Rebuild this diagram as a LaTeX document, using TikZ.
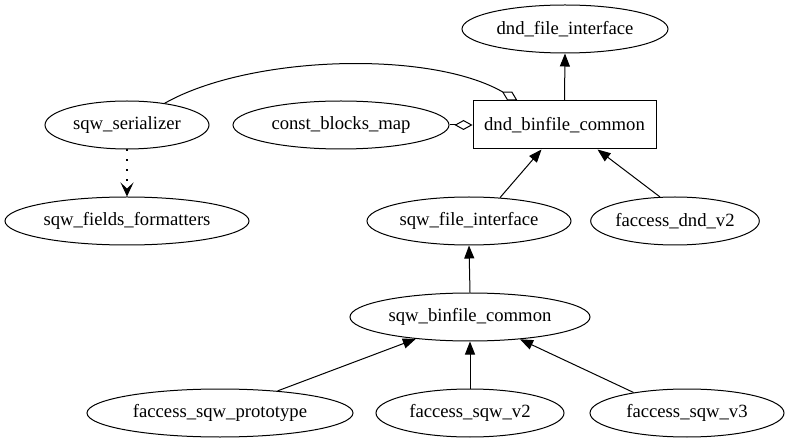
\documentclass[tikz,border=0pt]{standalone}
\usepackage{fontspec}
\setmainfont{Liberation Serif}
\usetikzlibrary{arrows.meta,shapes.geometric}
\begin{document}
\begin{tikzpicture}[x=1pt,y=-1pt,
  every node/.style={font=\fontsize{18.67}{22}\selectfont, inner sep=0pt},
  ell/.style={draw, ellipse, line width=1pt, minimum height=48pt},
  boxnode/.style={draw, rectangle, line width=1pt, minimum width=183pt, minimum height=48pt},
  edge/.style={line width=1pt, -{Triangle[length=13pt,width=10pt]}},
  agg/.style={line width=1pt, -{Diamond[open,length=18pt,width=10pt,line width=1pt]}},
  dep/.style={line width=1.4pt, dash pattern=on 2pt off 8pt, -{Stealth[length=14pt,width=13pt,inset=6pt,line width=1pt]}}
]
\useasboundingbox (0,0) rectangle (792,443);
\node[ell, minimum width=206pt] (dfi) at (565,29) {dnd\_file\_interface};
\node[boxnode] (box) at (564.5,125) {dnd\_binfile\_common};
\node[ell, minimum width=164pt] (ser) at (127,125) {sqw\_serializer};
\node[ell, minimum width=216pt] (cbm) at (341,125) {const\_blocks\_map};
\node[ell, minimum width=244pt] (sff) at (127,221) {sqw\_fields\_formatters};
\node[ell, minimum width=204pt] (sfi) at (469,221) {sqw\_file\_interface};
\node[ell, minimum width=154pt] (fdv) at (675,221) {faccess\_dnd\_v2};
\node[ell, minimum width=240pt] (sbc) at (470,317) {sqw\_binfile\_common};
\node[ell, minimum width=266pt] (fsp) at (220,413) {faccess\_sqw\_prototype};
\node[ell, minimum width=188pt] (fv2) at (470,413) {faccess\_sqw\_v2};
\node[ell, minimum width=194pt] (fv3) at (687,413) {faccess\_sqw\_v3};

\draw[edge] (box.north) -- (dfi.south);
\draw[edge] (sfi.37) -- ([xshift=-23pt]box.south);
\draw[edge] (fdv.122) -- ([xshift=33pt]box.south);
\draw[edge] (sbc.north) -- (sfi.south);
\draw[edge] (fsp.21) -- (sbc.202);
\draw[edge] (fv2.north) -- (sbc.south);
\draw[edge] (fv3.159) -- (sbc.-24);
\draw[agg] (cbm.east) -- (box.west);
\draw[agg] (ser.30) .. controls (250,55) and (430,50) .. ([xshift=45pt]box.north west);
\draw[dep] (ser.south) -- (sff.north);
\end{tikzpicture}
\end{document}
